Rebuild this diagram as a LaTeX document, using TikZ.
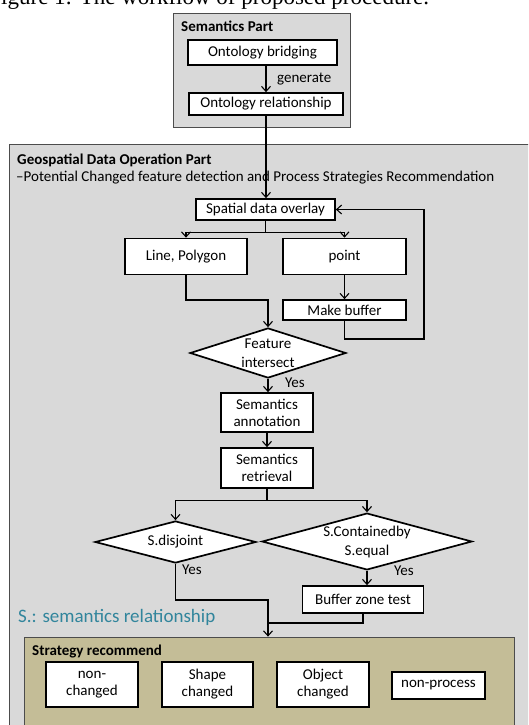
\documentclass[tikz,border=0pt]{standalone}
\usepackage{fontspec}
\setmainfont{Carlito}
\newfontfamily\capfont{Liberation Serif}
\usetikzlibrary{arrows.meta,shapes.geometric}
\definecolor{partgray}{HTML}{D9D9D9}
\definecolor{tan}{HTML}{C4BD97}
\definecolor{tealtxt}{HTML}{31859C}
\tikzset{
  body/.style={font=\fontsize{15}{17}\selectfont},
  stepbox/.style={draw, line width=1.7pt, fill=white, inner sep=0pt, align=center, body},
  decide/.style={diamond, draw, line width=1.7pt, fill=white, inner sep=0pt, aspect=3.5, align=center, font=\fontsize{15}{19}\selectfont},
  partbox/.style={draw=black!70, line width=0.8pt, fill=partgray, inner sep=0pt},
  arr/.style={line width=1.1pt, -{Straight Barb[length=5pt,width=9pt,line width=1.1pt]}},
  ln/.style={line width=1.1pt},
  ttl/.style={font=\bfseries\fontsize{15}{17}\selectfont, anchor=west, inner sep=0pt},
  lbl/.style={body, anchor=west, inner sep=0pt}
}
\begin{document}
\begin{tikzpicture}[x=1pt,y=-1pt]
\useasboundingbox (0,0) rectangle (528,725);
\clip (0,0) rectangle (528,725);
\node[font=\capfont\fontsize{23}{26}\selectfont, anchor=base west, inner sep=0pt] (cap) at (1,4.5) {igure 1: The workflow of proposed procedure.};
% part boxes
\node[partbox, minimum width=177pt, minimum height=114pt] (sp) at (261.5,70) {};
\node[partbox, minimum width=540pt, minimum height=600pt] (gp) at (279,444) {};
\node[ttl] (spt) at (181,26) {Semantics Part};
\node[ttl] (gpt) at (17,160) {Geospatial Data Operation Part};
\node[lbl] (gps) at (16,178) {–Potential Changed feature detection and Process Strategies Recommendation};
% semantics part
\node[stepbox, minimum width=149pt, minimum height=25pt] (ob) at (262.5,52.5) {Ontology bridging};
\node[stepbox, minimum width=154pt, minimum height=22pt] (orl) at (266,104) {Ontology relationship};
\node[lbl] (gen) at (277,79) {generate};
% geospatial part
\node[stepbox, minimum width=139pt, minimum height=21pt] (sdo) at (265.5,209.5) {Spatial data overlay};
\node[stepbox, minimum width=122pt, minimum height=36pt] (lp) at (186,256.5) {Line, Polygon};
\node[stepbox, minimum width=123pt, minimum height=36pt] (pt) at (344.5,256.5) {point};
\node[stepbox, minimum width=123pt, minimum height=20pt] (mb) at (344.5,310) {Make buffer};
\node[decide, minimum width=156pt, minimum height=50pt] (fi) at (268,353) {Feature\\intersect};
\node[lbl] (y1) at (285,383) {Yes};
\node[stepbox, minimum width=92pt, minimum height=39pt] (sa) at (267,412.5) {Semantics\\annotation};
\node[stepbox, minimum width=92pt, minimum height=40pt] (sr) at (267,468) {Semantics\\retrieval};
\node[decide, minimum width=161pt, minimum height=42pt] (sd) at (175.5,542) {S.disjoint};
\node[decide, minimum width=210pt, minimum height=55pt] (sc) at (367,541.5) {S.Containedby\\S.equal};
\node[lbl] (y2) at (182,570) {Yes};
\node[lbl] (y3) at (394,571) {Yes};
\node[stepbox, minimum width=121pt, minimum height=27pt] (bz) at (363,599.5) {Buffer zone test};
\node[anchor=west, inner sep=0pt, text=tealtxt, font=\fontsize{19}{22}\selectfont] (srl) at (18,617) {S.: semantics relationship};
% strategy
\node[draw=black!70, line width=0.8pt, fill=tan, minimum width=490pt, minimum height=93pt, inner sep=0pt] (sb) at (269,683.5) {};
\node[ttl] (sbt) at (32,651) {Strategy recommend};
\node[stepbox, minimum width=92pt, minimum height=45pt] (nc) at (92,684.5) {non-\\changed};
\node[stepbox, minimum width=91pt, minimum height=45pt] (shc) at (207.5,684.5) {Shape\\changed};
\node[stepbox, minimum width=92pt, minimum height=45pt] (objc) at (323,684.5) {Object\\changed};
\node[stepbox, minimum width=93pt, minimum height=27pt] (np) at (438.5,685.5) {non-process};
% connectors
\coordinate (j1) at (268,300);
\coordinate (fb) at (424,339);
\coordinate (j2) at (268,600);
\coordinate (j3) at (268,623);
\draw[arr] (ob.south -| orl.north) -- (orl.north);
\draw[arr] (orl.south) -- (orl.south |- sdo.north);
\draw[arr] (sdo.south) -- ++(0,12) -| (lp.north);
\draw[arr] (sdo.south) -- ++(0,12) -| (pt.north);
\draw[arr] (pt.south) -- (mb.north);
\draw[arr] (lp.south) |- (j1) -- (fi.north);
\draw[arr] (mb.south) |- (fb) |- (sdo.east);
\draw[arr] (fi.south) -- (sa.north -| fi.south);
\draw[arr] (sa.south) -- (sr.north);
\draw[arr] (sr.south) -- ++(0,12) -| (sd.north);
\draw[arr] (sr.south) -- ++(0,12) -| (sc.north);
\draw[arr] (sc.south) -- (sc.south |- bz.north);
\draw[arr] (sd.south) |- (j2) -- (j2 |- sb.north);
\draw[ln] (bz.south) |- (j3);
\end{tikzpicture}
\end{document}
